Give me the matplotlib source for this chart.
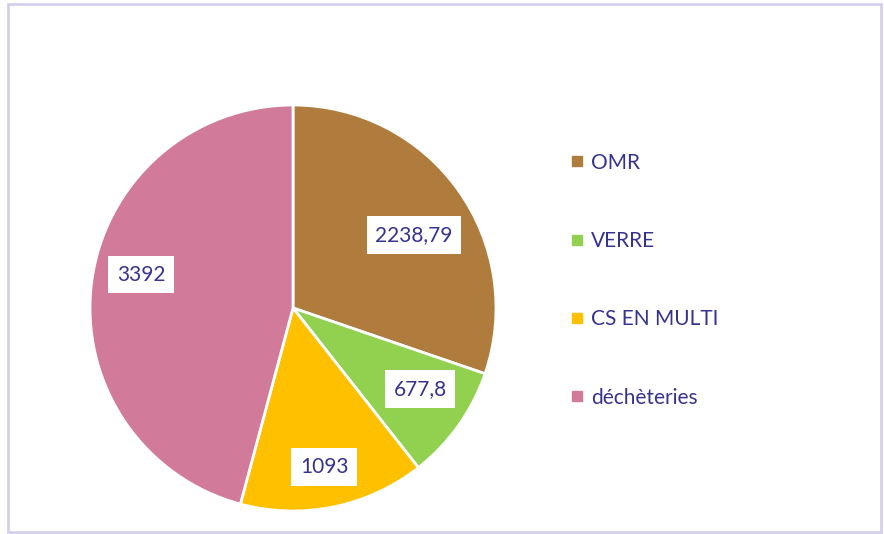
import numpy as np
import matplotlib.pyplot as plt
from matplotlib.patches import Rectangle
from matplotlib.lines import Line2D

categories = ["OMR", "VERRE", "CS EN MULTI", "déchèteries"]
values = [2238.79, 677.8, 1093, 3392]
value_labels = ["2238,79", "677,8", "1093", "3392"]
colors = ["#B07C3E", "#92D050", "#FFC000", "#D17A99"]

text_col = "#36338F"
plt.rcParams['font.family'] = ['Lato', 'DejaVu Sans']

fig = plt.figure(figsize=(8.84, 5.34), dpi=100)
# chart border
fig.patches.append(Rectangle((8 / 884, 2 / 534), 873 / 884, 528 / 534,
                             transform=fig.transFigure, fill=False,
                             edgecolor="#D5CFEE", linewidth=2))

ax = fig.add_axes([(293 - 203) / 884, (226 - 203) / 534, 406 / 884, 406 / 534])
wedges, _ = ax.pie(values, colors=colors, startangle=90, counterclock=False,
                   radius=1.0, wedgeprops=dict(edgecolor="white", linewidth=2))
ax.set_xlim(-1, 1)
ax.set_ylim(-1, 1)
ax.set_aspect("equal")

# data label placement (radius, angle shift from slice middle)
label_r = [0.696, 0.742, 0.798, 0.767]
label_shift = [-4.5, 2.9, -0.5, -4.9]
for w, lab, r, s in zip(wedges, value_labels, label_r, label_shift):
    mid = np.deg2rad((w.theta1 + w.theta2) / 2 + s)
    ax.text(r * np.cos(mid), r * np.sin(mid), lab, ha="center", va="center",
            fontsize=15, color=text_col,
            bbox=dict(boxstyle="square,pad=0.42", facecolor="white", edgecolor="none"))

handles = [Line2D([], [], marker="s", linestyle="none", markersize=7,
                  markerfacecolor=c, markeredgecolor=c) for c in colors]
fig.legend(handles, categories, loc="upper left",
           bbox_to_anchor=(548 / 884, 1 - 134 / 534), frameon=False,
           fontsize=15, labelcolor=text_col, labelspacing=2.8,
           handletextpad=0.15, handlelength=1.0)

fig.savefig("out.png", dpi=100)
